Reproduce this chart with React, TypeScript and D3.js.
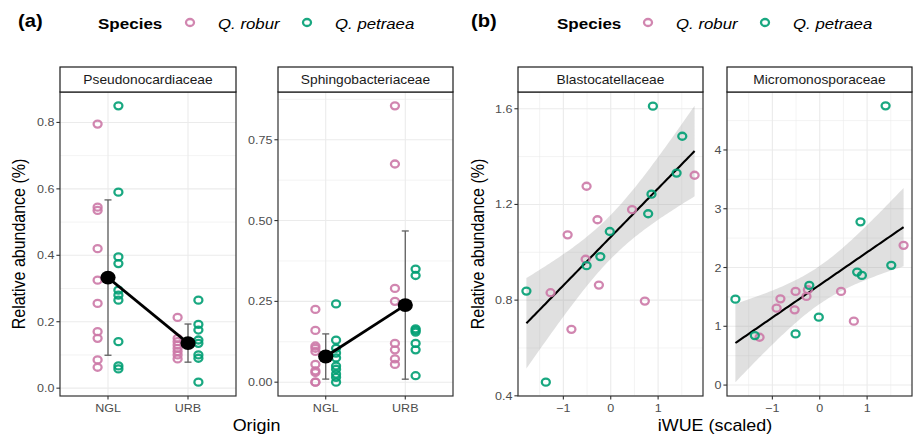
import React from 'react';
import * as d3 from 'd3';

// ---------- data ----------
const SPECIES = ['Q. robur', 'Q. petraea'];
const SPECIES_COLORS = ['#CC79A7', '#009E73'];
const ORIGINS = ['NGL', 'URB'];

// Panel (a): relative abundance by origin
const pseudoRoburNGL = [0.795, 0.545, 0.535, 0.42, 0.325, 0.255, 0.17, 0.15, 0.085, 0.063];
const pseudoPetraeaNGL = [0.85, 0.59, 0.395, 0.375, 0.295, 0.28, 0.265, 0.14, 0.067, 0.058];
const pseudoRoburURB = [0.213, 0.15, 0.14, 0.13, 0.12, 0.11, 0.1, 0.088];
const pseudoPetraeaURB = [0.265, 0.192, 0.175, 0.145, 0.135, 0.1, 0.09, 0.018];

const sphingoRoburNGL = [0.225, 0.16, 0.112, 0.105, 0.095, 0.055, 0.035, 0.03, 0.0, 0.0];
const sphingoPetraeaNGL = [0.242, 0.13, 0.105, 0.09, 0.075, 0.05, 0.04, 0.025, 0.015, 0.0];
const sphingoRoburURB = [0.855, 0.675, 0.29, 0.25, 0.12, 0.1, 0.072, 0.055];
const sphingoPetraeaURB = [0.35, 0.33, 0.165, 0.16, 0.155, 0.12, 0.1, 0.02];

const pseudoTicks = [0, 0.2, 0.4, 0.6, 0.8];
const pseudoTickLabels = ['0.0', '0.2', '0.4', '0.6', '0.8'];
const sphingoTicks = [0, 0.25, 0.5, 0.75];
const sphingoTickLabels = ['0.00', '0.25', '0.50', '0.75'];

// Panel (b): relative abundance vs iWUE (scaled)
const iwueRobur = [1.77, -0.51, 0.45, -0.28, -0.91, -0.53, -0.25, -1.27, 0.72, -0.83];
const iwuePetraea = [0.89, 1.51, 1.39, 0.86, 0.79, -0.02, -0.22, -0.51, -1.78, -1.37];
const blastoRobur = [1.322, 1.276, 1.178, 1.136, 1.073, 0.971, 0.863, 0.831, 0.796, 0.678];
const blastoPetraea = [1.611, 1.485, 1.331, 1.243, 1.161, 1.087, 0.982, 0.944, 0.838, 0.457];
const microRobur = [2.378, 1.593, 1.593, 1.508, 1.309, 1.28, 1.622, 0.814, 1.087, 1.468];
const microPetraea = [1.866, 2.037, 4.751, 2.777, 1.923, 1.155, 1.696, 0.871, 1.462, 0.842];

const blastoTicks = [0.4, 0.8, 1.2, 1.6];
const blastoTickLabels = ['0.4', '0.8', '1.2', '1.6'];
const microTicks = [0, 1, 2, 3, 4];
const microTickLabels = ['0', '1', '2', '3', '4'];
const iwueTicks = [-1, 0, 1];
const iwueTickLabels = ['\u22121', '0', '1'];

// ---------- style ----------
const FONT = '"Liberation Sans", Arial, Helvetica, sans-serif';
const SX = 1.12; // horizontal stretch of glyphs seen in the reference
const GRID = '#EBEBEB';
const BORDER = '#333333';
const TICKTXT = '#4D4D4D';

type TProps = {
  x: number; y: number; size: number; anchor?: string; weight?: string | number;
  italic?: boolean; fill?: string; rotate?: boolean; children: React.ReactNode;
};
const T = ({ x, y, size, anchor = 'start', weight = 'normal', italic = false, fill = '#000', rotate = false, children }: TProps) => (
  <text
    transform={`translate(${x},${y})${rotate ? ` rotate(-90) scale(1,${SX})` : ` scale(${SX},1)`}`}
    fontSize={size}
    fontFamily={FONT}
    fontWeight={weight}
    fontStyle={italic ? 'italic' : 'normal'}
    textAnchor={anchor}
    fill={fill}
  >
    {children}
  </text>
);

const Pt = ({ cx, cy, color }: { cx: number; cy: number; color: string }) => (
  <ellipse cx={cx} cy={cy} rx={4.0} ry={3.5} fill="none" stroke={color} strokeWidth={2.3} strokeOpacity={0.9} />
);

const STRIP_TOP = 67;
const PANEL_TOP = 92;
const PANEL_BOTTOM = 396;

function minorsOf(ticks: number[], domain: number[]) {
  const step = ticks[1] - ticks[0];
  const out: number[] = [];
  const start = ticks[0] - step * Math.ceil((ticks[0] - domain[0]) / step + 1);
  for (let v = start + step / 2; v <= domain[1]; v += step) {
    if (v >= domain[0]) out.push(v);
  }
  return out;
}

function padDomain(vals: number[]) {
  const [lo, hi] = d3.extent(vals) as [number, number];
  const e = (hi - lo) * 0.05;
  return [lo - e, hi + e];
}

type FacetProps = {
  left: number; right: number; label: string;
  x: d3.ScaleLinear<number, number>; y: d3.ScaleLinear<number, number>;
  yTicks: number[]; yLabels: string[];
  xTicks: number[]; xLabels: string[]; xMinor: number[];
  children?: React.ReactNode;
};

const Facet = ({ left, right, label, x, y, yTicks, yLabels, xTicks, xLabels, xMinor, children }: FacetProps) => {
  const yMinor = minorsOf(yTicks, y.domain());
  return (
    <g>
      <rect x={left} y={PANEL_TOP} width={right - left} height={PANEL_BOTTOM - PANEL_TOP} fill="#fff" />
      {yMinor.map((v, i) => (
        <line key={'ym' + i} x1={left} x2={right} y1={y(v)} y2={y(v)} stroke={GRID} strokeWidth={0.6} />
      ))}
      {xMinor.map((v, i) => (
        <line key={'xm' + i} y1={PANEL_TOP} y2={PANEL_BOTTOM} x1={x(v)} x2={x(v)} stroke={GRID} strokeWidth={0.6} />
      ))}
      {yTicks.map((v, i) => (
        <line key={'yM' + i} x1={left} x2={right} y1={y(v)} y2={y(v)} stroke={GRID} strokeWidth={1.1} />
      ))}
      {xTicks.map((v, i) => (
        <line key={'xM' + i} y1={PANEL_TOP} y2={PANEL_BOTTOM} x1={x(v)} x2={x(v)} stroke={GRID} strokeWidth={1.1} />
      ))}
      <g>{children}</g>
      <rect x={left} y={PANEL_TOP} width={right - left} height={PANEL_BOTTOM - PANEL_TOP} fill="none" stroke={BORDER} strokeWidth={1.2} />
      <rect x={left} y={STRIP_TOP} width={right - left} height={PANEL_TOP - STRIP_TOP} fill="#fff" stroke="#1a1a1a" strokeWidth={1.2} />
      <T x={(left + right) / 2} y={(STRIP_TOP + PANEL_TOP) / 2 + 4.4} size={12.3} anchor="middle" fill="#1A1A1A">{label}</T>
      {yTicks.map((v, i) => (
        <g key={'yt' + i}>
          <line x1={left - 3.6} x2={left} y1={y(v)} y2={y(v)} stroke={BORDER} strokeWidth={1.1} />
          <T x={left - 5.5} y={y(v) + 4} size={11.2} anchor="end" fill={TICKTXT}>{yLabels[i]}</T>
        </g>
      ))}
      {xTicks.map((v, i) => (
        <g key={'xt' + i}>
          <line y1={PANEL_BOTTOM} y2={PANEL_BOTTOM + 3.6} x1={x(v)} x2={x(v)} stroke={BORDER} strokeWidth={1.1} />
          <T x={x(v)} y={PANEL_BOTTOM + 16} size={11.2} anchor="middle" fill={TICKTXT}>{xLabels[i]}</T>
        </g>
      ))}
    </g>
  );
};

// ---------- panel (a) facet ----------
type OriginFacetProps = {
  left: number; right: number; label: string;
  roburNGL: number[]; petraeaNGL: number[]; roburURB: number[]; petraeaURB: number[];
  ticks: number[]; tickLabels: string[];
};

const OriginFacet = ({ left, right, label, roburNGL, petraeaNGL, roburURB, petraeaURB, ticks, tickLabels }: OriginFacetProps) => {
  const groups = [
    [roburNGL, petraeaNGL],
    [roburURB, petraeaURB],
  ];
  const all = groups.flat(2);
  const x = d3.scaleLinear().domain([0.4, 2.6]).range([left, right]);
  const y = d3.scaleLinear().domain(padDomain(all)).range([PANEL_BOTTOM, PANEL_TOP]);
  const dodge = 0.13;
  const summary = groups.map((g, i) => {
    const vals = g.flat();
    const m = d3.mean(vals) as number;
    const sd = d3.deviation(vals) as number;
    return { pos: i + 1, mean: m, lo: m - sd, hi: m + sd };
  });
  const line = d3.line<{ pos: number; mean: number }>().x(d => x(d.pos)).y(d => y(d.mean));
  return (
    <Facet left={left} right={right} label={label} x={x} y={y} yTicks={ticks} yLabels={tickLabels}
      xTicks={[1, 2]} xLabels={ORIGINS} xMinor={[]}>
      {groups.map((g, gi) =>
        g.map((vals, si) =>
          vals.map((v, k) => (
            <Pt key={`${gi}-${si}-${k}`} cx={x(gi + 1 + (si === 0 ? -dodge : dodge))} cy={y(v)} color={SPECIES_COLORS[si]} />
          ))
        )
      )}
      {summary.map((s, i) => (
        <g key={'eb' + i} stroke="#5f5f5f" strokeWidth={1.3}>
          <line x1={x(s.pos)} x2={x(s.pos)} y1={y(s.lo)} y2={y(s.hi)} />
          <line x1={x(s.pos) - 3.5} x2={x(s.pos) + 3.5} y1={y(s.lo)} y2={y(s.lo)} />
          <line x1={x(s.pos) - 3.5} x2={x(s.pos) + 3.5} y1={y(s.hi)} y2={y(s.hi)} />
        </g>
      ))}
      <path d={line(summary) as string} fill="none" stroke="#000" strokeWidth={2.7} />
      {summary.map((s, i) => (
        <ellipse key={'m' + i} cx={x(s.pos)} cy={y(s.mean)} rx={7.6} ry={6.9} fill="#000" />
      ))}
    </Facet>
  );
};

// ---------- panel (b) facet ----------
function lmBand(xs: number[], ys: number[]) {
  const n = xs.length;
  const xbar = d3.mean(xs) as number;
  const ybar = d3.mean(ys) as number;
  let sxx = 0, sxy = 0;
  for (let i = 0; i < n; i++) {
    sxx += (xs[i] - xbar) ** 2;
    sxy += (xs[i] - xbar) * (ys[i] - ybar);
  }
  const b = sxy / sxx;
  const a = ybar - b * xbar;
  let sse = 0;
  for (let i = 0; i < n; i++) sse += (ys[i] - (a + b * xs[i])) ** 2;
  const s = Math.sqrt(sse / (n - 2));
  const t = 2.1009; // t(0.975, df = 18)
  const [lo, hi] = d3.extent(xs) as [number, number];
  const pts = d3.range(0, 81).map(i => {
    const xv = lo + ((hi - lo) * i) / 80;
    const fit = a + b * xv;
    const se = s * Math.sqrt(1 / n + (xv - xbar) ** 2 / sxx);
    return { x: xv, fit, lo: fit - t * se, hi: fit + t * se };
  });
  return pts;
}

type IwueFacetProps = {
  left: number; right: number; label: string;
  robur: number[]; petraea: number[]; ticks: number[]; tickLabels: string[];
};

const IwueFacet = ({ left, right, label, robur, petraea, ticks, tickLabels }: IwueFacetProps) => {
  const xs = [...iwueRobur, ...iwuePetraea];
  const ys = [...robur, ...petraea];
  const band = lmBand(xs, ys);
  const x = d3.scaleLinear().domain(padDomain(xs)).range([left, right]);
  const y = d3.scaleLinear()
    .domain(padDomain([...ys, ...band.map(d => d.lo), ...band.map(d => d.hi)]))
    .range([PANEL_BOTTOM, PANEL_TOP]);
  const area = d3.area<{ x: number; lo: number; hi: number }>().x(d => x(d.x)).y0(d => y(d.lo)).y1(d => y(d.hi));
  const line = d3.line<{ x: number; fit: number }>().x(d => x(d.x)).y(d => y(d.fit));
  return (
    <Facet left={left} right={right} label={label} x={x} y={y} yTicks={ticks} yLabels={tickLabels}
      xTicks={iwueTicks} xLabels={iwueTickLabels} xMinor={minorsOf(iwueTicks, x.domain())}>
      <path d={area(band) as string} fill="#999999" fillOpacity={0.3} />
      <path d={line(band) as string} fill="none" stroke="#000" strokeWidth={2.1} />
      {robur.map((v, i) => (
        <Pt key={'r' + i} cx={x(iwueRobur[i])} cy={y(v)} color={SPECIES_COLORS[0]} />
      ))}
      {petraea.map((v, i) => (
        <Pt key={'p' + i} cx={x(iwuePetraea[i])} cy={y(v)} color={SPECIES_COLORS[1]} />
      ))}
    </Facet>
  );
};

// ---------- legend ----------
const Legend = ({ x0, items }: { x0: number; items: number[] }) => (
  <g>
    <T x={x0} y={29} size={15.2} weight="bold">Species</T>
    {SPECIES.map((s, i) => (
      <g key={s}>
        <Pt cx={items[i]} cy={22.5} color={SPECIES_COLORS[i]} />
        <T x={items[i] + 28} y={29} size={15} italic>{s}</T>
      </g>
    ))}
  </g>
);

export default function App() {
  return (
    <svg width={919} height={438} style={{ display: 'block', position: 'absolute', left: 0, top: 0, background: '#fff' }}>
      <rect width={919} height={438} fill="#fff" />
      {/* panel (a) */}
      <T x={18} y={27} size={18} weight="bold">(a)</T>
      <Legend x0={98} items={[190, 307]} />
      <OriginFacet left={60} right={236} label="Pseudonocardiaceae"
        roburNGL={pseudoRoburNGL} petraeaNGL={pseudoPetraeaNGL} roburURB={pseudoRoburURB} petraeaURB={pseudoPetraeaURB}
        ticks={pseudoTicks} tickLabels={pseudoTickLabels} />
      <OriginFacet left={278} right={453} label="Sphingobacteriaceae"
        roburNGL={sphingoRoburNGL} petraeaNGL={sphingoPetraeaNGL} roburURB={sphingoRoburURB} petraeaURB={sphingoPetraeaURB}
        ticks={sphingoTicks} tickLabels={sphingoTickLabels} />
      <T x={25} y={244} size={16} anchor="middle" rotate>Relative abundance (%)</T>
      <T x={256.5} y={431} size={16} anchor="middle">Origin</T>

      {/* panel (b) */}
      <T x={471} y={27} size={18} weight="bold">(b)</T>
      <Legend x0={557} items={[648, 765]} />
      <IwueFacet left={518} right={703} label="Blastocatellaceae" robur={blastoRobur} petraea={blastoPetraea}
        ticks={blastoTicks} tickLabels={blastoTickLabels} />
      <IwueFacet left={727} right={912} label="Micromonosporaceae" robur={microRobur} petraea={microPetraea}
        ticks={microTicks} tickLabels={microTickLabels} />
      <T x={484} y={244} size={16} anchor="middle" rotate>Relative abundance (%)</T>
      <T x={715} y={431} size={16} anchor="middle">iWUE (scaled)</T>
    </svg>
  );
}
